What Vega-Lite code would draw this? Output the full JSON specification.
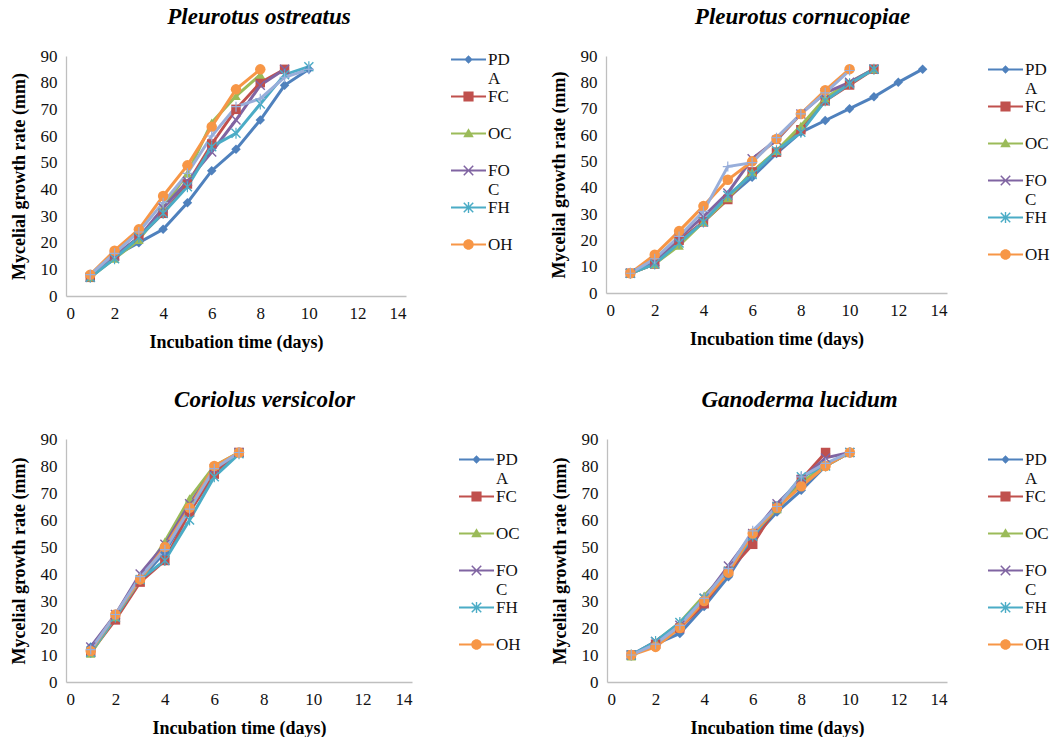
{
"$schema": "https://vega.github.io/schema/vega-lite/v6.json",
"padding": {"left": 10, "top": 6, "right": 0, "bottom": 0},
"background": "white",
"datasets": {"growth": [
{"panel":"PO","series":"PDA","day":1,"value":7},{"panel":"PO","series":"PDA","day":2,"value":15},{"panel":"PO","series":"PDA","day":3,"value":20},{"panel":"PO","series":"PDA","day":4,"value":25},{"panel":"PO","series":"PDA","day":5,"value":35},{"panel":"PO","series":"PDA","day":6,"value":47},{"panel":"PO","series":"PDA","day":7,"value":55},{"panel":"PO","series":"PDA","day":8,"value":66},{"panel":"PO","series":"PDA","day":9,"value":79},{"panel":"PO","series":"PDA","day":10,"value":85},
{"panel":"PO","series":"FC","day":1,"value":7},{"panel":"PO","series":"FC","day":2,"value":15},{"panel":"PO","series":"FC","day":3,"value":22},{"panel":"PO","series":"FC","day":4,"value":31},{"panel":"PO","series":"FC","day":5,"value":42},{"panel":"PO","series":"FC","day":6,"value":57},{"panel":"PO","series":"FC","day":7,"value":70},{"panel":"PO","series":"FC","day":8,"value":80},{"panel":"PO","series":"FC","day":9,"value":85},
{"panel":"PO","series":"OC","day":1,"value":7},{"panel":"PO","series":"OC","day":2,"value":14},{"panel":"PO","series":"OC","day":3,"value":21},{"panel":"PO","series":"OC","day":4,"value":33},{"panel":"PO","series":"OC","day":5,"value":46},{"panel":"PO","series":"OC","day":6,"value":65},{"panel":"PO","series":"OC","day":7,"value":75},{"panel":"PO","series":"OC","day":8,"value":83},
{"panel":"PO","series":"FOC","day":1,"value":7},{"panel":"PO","series":"FOC","day":2,"value":15},{"panel":"PO","series":"FOC","day":3,"value":22},{"panel":"PO","series":"FOC","day":4,"value":33},{"panel":"PO","series":"FOC","day":5,"value":43},{"panel":"PO","series":"FOC","day":6,"value":54},{"panel":"PO","series":"FOC","day":7,"value":66},{"panel":"PO","series":"FOC","day":8,"value":79},{"panel":"PO","series":"FOC","day":9,"value":85},
{"panel":"PO","series":"FH","day":1,"value":7},{"panel":"PO","series":"FH","day":2,"value":14},{"panel":"PO","series":"FH","day":3,"value":22},{"panel":"PO","series":"FH","day":4,"value":31},{"panel":"PO","series":"FH","day":5,"value":41},{"panel":"PO","series":"FH","day":6,"value":56},{"panel":"PO","series":"FH","day":7,"value":61},{"panel":"PO","series":"FH","day":8,"value":72},{"panel":"PO","series":"FH","day":9,"value":83},{"panel":"PO","series":"FH","day":10,"value":86},
{"panel":"PO","series":"OH","day":1,"value":8},{"panel":"PO","series":"OH","day":2,"value":17},{"panel":"PO","series":"OH","day":3,"value":25},{"panel":"PO","series":"OH","day":4,"value":37.5},{"panel":"PO","series":"OH","day":5,"value":49},{"panel":"PO","series":"OH","day":6,"value":63.5},{"panel":"PO","series":"OH","day":7,"value":77.5},{"panel":"PO","series":"OH","day":8,"value":85},
{"panel":"PO","series":"X","day":1,"value":8},{"panel":"PO","series":"X","day":2,"value":16},{"panel":"PO","series":"X","day":3,"value":24},{"panel":"PO","series":"X","day":4,"value":35},{"panel":"PO","series":"X","day":5,"value":46},{"panel":"PO","series":"X","day":6,"value":60},{"panel":"PO","series":"X","day":7,"value":71},{"panel":"PO","series":"X","day":8,"value":74},{"panel":"PO","series":"X","day":9,"value":82},{"panel":"PO","series":"X","day":10,"value":85},

{"panel":"PC","series":"PDA","day":1,"value":7.5},{"panel":"PC","series":"PDA","day":2,"value":11},{"panel":"PC","series":"PDA","day":3,"value":19},{"panel":"PC","series":"PDA","day":4,"value":27},{"panel":"PC","series":"PDA","day":5,"value":36},{"panel":"PC","series":"PDA","day":6,"value":44},{"panel":"PC","series":"PDA","day":7,"value":53},{"panel":"PC","series":"PDA","day":8,"value":61},{"panel":"PC","series":"PDA","day":9,"value":65.5},{"panel":"PC","series":"PDA","day":10,"value":70},{"panel":"PC","series":"PDA","day":11,"value":74.5},{"panel":"PC","series":"PDA","day":12,"value":80},{"panel":"PC","series":"PDA","day":13,"value":85},
{"panel":"PC","series":"FC","day":1,"value":7.5},{"panel":"PC","series":"FC","day":2,"value":11},{"panel":"PC","series":"FC","day":3,"value":20},{"panel":"PC","series":"FC","day":4,"value":27},{"panel":"PC","series":"FC","day":5,"value":35.5},{"panel":"PC","series":"FC","day":6,"value":46},{"panel":"PC","series":"FC","day":7,"value":53.5},{"panel":"PC","series":"FC","day":8,"value":62},{"panel":"PC","series":"FC","day":9,"value":73},{"panel":"PC","series":"FC","day":10,"value":79},{"panel":"PC","series":"FC","day":11,"value":85},
{"panel":"PC","series":"OC","day":1,"value":7.5},{"panel":"PC","series":"OC","day":2,"value":11},{"panel":"PC","series":"OC","day":3,"value":18},{"panel":"PC","series":"OC","day":4,"value":27},{"panel":"PC","series":"OC","day":5,"value":36},{"panel":"PC","series":"OC","day":6,"value":46},{"panel":"PC","series":"OC","day":7,"value":54},{"panel":"PC","series":"OC","day":8,"value":63.5},{"panel":"PC","series":"OC","day":9,"value":74},{"panel":"PC","series":"OC","day":10,"value":80},{"panel":"PC","series":"OC","day":11,"value":85},
{"panel":"PC","series":"FOC","day":1,"value":7.5},{"panel":"PC","series":"FOC","day":2,"value":12},{"panel":"PC","series":"FOC","day":3,"value":21},{"panel":"PC","series":"FOC","day":4,"value":29},{"panel":"PC","series":"FOC","day":5,"value":38},{"panel":"PC","series":"FOC","day":6,"value":51},{"panel":"PC","series":"FOC","day":7,"value":58},{"panel":"PC","series":"FOC","day":8,"value":68},{"panel":"PC","series":"FOC","day":9,"value":76},{"panel":"PC","series":"FOC","day":10,"value":80},{"panel":"PC","series":"FOC","day":11,"value":85},
{"panel":"PC","series":"FH","day":1,"value":7.5},{"panel":"PC","series":"FH","day":2,"value":11},{"panel":"PC","series":"FH","day":3,"value":19},{"panel":"PC","series":"FH","day":4,"value":27},{"panel":"PC","series":"FH","day":5,"value":37},{"panel":"PC","series":"FH","day":6,"value":45},{"panel":"PC","series":"FH","day":7,"value":54},{"panel":"PC","series":"FH","day":8,"value":61},{"panel":"PC","series":"FH","day":9,"value":73},{"panel":"PC","series":"FH","day":10,"value":79.5},{"panel":"PC","series":"FH","day":11,"value":85},
{"panel":"PC","series":"OH","day":1,"value":7.5},{"panel":"PC","series":"OH","day":2,"value":14.5},{"panel":"PC","series":"OH","day":3,"value":23.5},{"panel":"PC","series":"OH","day":4,"value":33},{"panel":"PC","series":"OH","day":5,"value":43},{"panel":"PC","series":"OH","day":6,"value":50},{"panel":"PC","series":"OH","day":7,"value":58.5},{"panel":"PC","series":"OH","day":8,"value":68},{"panel":"PC","series":"OH","day":9,"value":77},{"panel":"PC","series":"OH","day":10,"value":85},
{"panel":"PC","series":"X","day":1,"value":7.5},{"panel":"PC","series":"X","day":2,"value":13},{"panel":"PC","series":"X","day":3,"value":21.5},{"panel":"PC","series":"X","day":4,"value":31},{"panel":"PC","series":"X","day":5,"value":48},{"panel":"PC","series":"X","day":6,"value":49.5},{"panel":"PC","series":"X","day":7,"value":59},{"panel":"PC","series":"X","day":8,"value":68},{"panel":"PC","series":"X","day":9,"value":76},{"panel":"PC","series":"X","day":10,"value":84.5},

{"panel":"CV","series":"PDA","day":1,"value":13},{"panel":"CV","series":"PDA","day":2,"value":24},{"panel":"CV","series":"PDA","day":3,"value":38},{"panel":"CV","series":"PDA","day":4,"value":48},{"panel":"CV","series":"PDA","day":5,"value":64},{"panel":"CV","series":"PDA","day":6,"value":78},{"panel":"CV","series":"PDA","day":7,"value":85},
{"panel":"CV","series":"FC","day":1,"value":11},{"panel":"CV","series":"FC","day":2,"value":23},{"panel":"CV","series":"FC","day":3,"value":37},{"panel":"CV","series":"FC","day":4,"value":45},{"panel":"CV","series":"FC","day":5,"value":63},{"panel":"CV","series":"FC","day":6,"value":77},{"panel":"CV","series":"FC","day":7,"value":85},
{"panel":"CV","series":"OC","day":1,"value":10.5},{"panel":"CV","series":"OC","day":2,"value":24},{"panel":"CV","series":"OC","day":3,"value":38},{"panel":"CV","series":"OC","day":4,"value":52},{"panel":"CV","series":"OC","day":5,"value":68},{"panel":"CV","series":"OC","day":6,"value":80},{"panel":"CV","series":"OC","day":7,"value":85},
{"panel":"CV","series":"FOC","day":1,"value":13},{"panel":"CV","series":"FOC","day":2,"value":25},{"panel":"CV","series":"FOC","day":3,"value":40},{"panel":"CV","series":"FOC","day":4,"value":51},{"panel":"CV","series":"FOC","day":5,"value":66},{"panel":"CV","series":"FOC","day":6,"value":79},{"panel":"CV","series":"FOC","day":7,"value":85},
{"panel":"CV","series":"FH","day":1,"value":11},{"panel":"CV","series":"FH","day":2,"value":24},{"panel":"CV","series":"FH","day":3,"value":38},{"panel":"CV","series":"FH","day":4,"value":45},{"panel":"CV","series":"FH","day":5,"value":60},{"panel":"CV","series":"FH","day":6,"value":76},{"panel":"CV","series":"FH","day":7,"value":84.5},
{"panel":"CV","series":"OH","day":1,"value":11.5},{"panel":"CV","series":"OH","day":2,"value":25},{"panel":"CV","series":"OH","day":3,"value":38},{"panel":"CV","series":"OH","day":4,"value":50},{"panel":"CV","series":"OH","day":5,"value":64.5},{"panel":"CV","series":"OH","day":6,"value":80},{"panel":"CV","series":"OH","day":7,"value":85},
{"panel":"CV","series":"X","day":1,"value":12},{"panel":"CV","series":"X","day":2,"value":25},{"panel":"CV","series":"X","day":3,"value":39},{"panel":"CV","series":"X","day":4,"value":49},{"panel":"CV","series":"X","day":5,"value":64},{"panel":"CV","series":"X","day":6,"value":79},{"panel":"CV","series":"X","day":7,"value":85},

{"panel":"GL","series":"PDA","day":1,"value":10},{"panel":"GL","series":"PDA","day":2,"value":14},{"panel":"GL","series":"PDA","day":3,"value":18},{"panel":"GL","series":"PDA","day":4,"value":28},{"panel":"GL","series":"PDA","day":5,"value":39},{"panel":"GL","series":"PDA","day":6,"value":53},{"panel":"GL","series":"PDA","day":7,"value":63},{"panel":"GL","series":"PDA","day":8,"value":71},{"panel":"GL","series":"PDA","day":9,"value":80},{"panel":"GL","series":"PDA","day":10,"value":85},
{"panel":"GL","series":"FC","day":1,"value":10},{"panel":"GL","series":"FC","day":2,"value":14},{"panel":"GL","series":"FC","day":3,"value":20},{"panel":"GL","series":"FC","day":4,"value":29},{"panel":"GL","series":"FC","day":5,"value":41},{"panel":"GL","series":"FC","day":6,"value":51},{"panel":"GL","series":"FC","day":7,"value":65},{"panel":"GL","series":"FC","day":8,"value":75},{"panel":"GL","series":"FC","day":9,"value":85},
{"panel":"GL","series":"OC","day":1,"value":9.5},{"panel":"GL","series":"OC","day":2,"value":15},{"panel":"GL","series":"OC","day":3,"value":22},{"panel":"GL","series":"OC","day":4,"value":32},{"panel":"GL","series":"OC","day":5,"value":41},{"panel":"GL","series":"OC","day":6,"value":55},{"panel":"GL","series":"OC","day":7,"value":64},{"panel":"GL","series":"OC","day":8,"value":74},{"panel":"GL","series":"OC","day":9,"value":80},{"panel":"GL","series":"OC","day":10,"value":85},
{"panel":"GL","series":"FOC","day":1,"value":10},{"panel":"GL","series":"FOC","day":2,"value":15},{"panel":"GL","series":"FOC","day":3,"value":21},{"panel":"GL","series":"FOC","day":4,"value":31},{"panel":"GL","series":"FOC","day":5,"value":43},{"panel":"GL","series":"FOC","day":6,"value":55},{"panel":"GL","series":"FOC","day":7,"value":66},{"panel":"GL","series":"FOC","day":8,"value":75},{"panel":"GL","series":"FOC","day":9,"value":83},{"panel":"GL","series":"FOC","day":10,"value":85},
{"panel":"GL","series":"FH","day":1,"value":10},{"panel":"GL","series":"FH","day":2,"value":15},{"panel":"GL","series":"FH","day":3,"value":22},{"panel":"GL","series":"FH","day":4,"value":31},{"panel":"GL","series":"FH","day":5,"value":41},{"panel":"GL","series":"FH","day":6,"value":54},{"panel":"GL","series":"FH","day":7,"value":65},{"panel":"GL","series":"FH","day":8,"value":76},{"panel":"GL","series":"FH","day":9,"value":80},{"panel":"GL","series":"FH","day":10,"value":85},
{"panel":"GL","series":"OH","day":1,"value":10},{"panel":"GL","series":"OH","day":2,"value":13},{"panel":"GL","series":"OH","day":3,"value":20},{"panel":"GL","series":"OH","day":4,"value":30},{"panel":"GL","series":"OH","day":5,"value":40.5},{"panel":"GL","series":"OH","day":6,"value":55},{"panel":"GL","series":"OH","day":7,"value":64.5},{"panel":"GL","series":"OH","day":8,"value":72.5},{"panel":"GL","series":"OH","day":9,"value":80},{"panel":"GL","series":"OH","day":10,"value":85},
{"panel":"GL","series":"X","day":1,"value":10},{"panel":"GL","series":"X","day":2,"value":14},{"panel":"GL","series":"X","day":3,"value":21},{"panel":"GL","series":"X","day":4,"value":31},{"panel":"GL","series":"X","day":5,"value":42},{"panel":"GL","series":"X","day":6,"value":56},{"panel":"GL","series":"X","day":7,"value":65},{"panel":"GL","series":"X","day":8,"value":76},{"panel":"GL","series":"X","day":9,"value":81},{"panel":"GL","series":"X","day":10,"value":85}
]},
"data": {"name": "growth"},
"config": {
  "font": "Liberation Serif",
  "view": {"stroke": null},
  "axis": {"grid": false, "ticks": false, "domainColor": "#BFBFBF", "domainWidth": 1.3, "labelFont": "Liberation Serif", "labelFontSize": 17, "labelColor": "#111111", "labelPadding": 9, "titleFont": "Liberation Serif", "titleFontSize": 18, "titleFontWeight": "bold", "titleColor": "#000000", "titlePadding": 12},
  "title": {"font": "Liberation Serif", "fontSize": 23, "fontWeight": "bold", "fontStyle": "italic", "color": "#000000", "frame": "bounds", "offset": 18},
  "legend": {"labelFont": "Liberation Serif", "labelFontSize": 17, "labelColor": "#111111", "title": null, "symbolSize": 289, "symbolStrokeWidth": 0, "labelOffset": 20, "rowPadding": 0, "gridAlign": "all"}
},
"resolve": {"scale": {"color": "independent", "shape": "independent", "stroke": "independent"}, "legend": {"color": "independent", "shape": "independent"}},
"spacing": 38,
"vconcat": [
 {"hconcat": [
  {"width": 340, "height": 240, "title": {"text": "Pleurotus ostreatus"},
   "transform": [{"filter": "datum.panel === 'PO'"}],
   "encoding": {
    "x": {"field": "day", "type": "quantitative", "scale": {"domain": [0, 14], "nice": false}, "axis": {"values": [0,2,4,6,8,10,12,14], "title": "Incubation time (days)"}},
    "y": {"field": "value", "type": "quantitative", "scale": {"domain": [0, 90], "nice": false}, "axis": {"values": [0,10,20,30,40,50,60,70,80,90], "title": "Mycelial growth rate (mm)"}}
   },
   "layer": [
    {"transform": [{"filter": "datum.series !== 'X'"}], "mark": {"type": "line", "strokeWidth": 3}, "encoding": {"stroke": {"field": "series", "type": "nominal", "scale": {"domain": ["OH","FH","FOC","OC","FC","PDA"], "range": ["#F79646","#4BACC6","#8064A2","#9BBB59","#C0504D","#4F81BD"]}, "legend": null}}},
    {"transform": [{"filter": "datum.series === 'X'"}], "mark": {"type": "line", "strokeWidth": 3, "color": "#98AEDA"}, "encoding": {}},
    {"transform": [{"filter": "datum.series === 'PDA'"}], "mark": {"type": "point", "shape": "diamond", "filled": true, "opacity": 1, "size": 90, "color": "#4F81BD"}},
    {"transform": [{"filter": "datum.series === 'FC'"}], "mark": {"type": "point", "shape": "square", "filled": true, "opacity": 1, "size": 90, "color": "#C0504D"}},
    {"transform": [{"filter": "datum.series === 'OC'"}], "mark": {"type": "point", "shape": "triangle-up", "filled": true, "opacity": 1, "size": 90, "color": "#9BBB59"}},
    {"transform": [{"filter": "datum.series === 'FOC'"}], "mark": {"type": "point", "shape": "M-1,-0.8L-0.8,-1L0,-0.2L0.8,-1L1,-0.8L0.2,0L1,0.8L0.8,1L0,0.2L-0.8,1L-1,0.8L-0.2,0Z", "filled": true, "opacity": 1, "size": 100, "color": "#8064A2"}},
    {"transform": [{"filter": "datum.series === 'FH'"}], "mark": {"type": "point", "shape": "M-1,-0.8L-0.8,-1L0,-0.2L0.8,-1L1,-0.8L0.2,0L1,0.8L0.8,1L0,0.2L-0.8,1L-1,0.8L-0.2,0ZM-0.12,-1.1L0.12,-1.1L0.12,1.1L-0.12,1.1Z", "filled": true, "opacity": 1, "size": 100, "color": "#4BACC6"}},
    {"transform": [{"filter": "datum.series === 'OH'"}], "mark": {"type": "point", "shape": "circle", "filled": true, "opacity": 1, "size": 110, "color": "#F79646"}},
    {"transform": [{"filter": "datum.series === 'X'"}], "mark": {"type": "point", "shape": "M-1,-0.12L1,-0.12L1,0.12L-1,0.12ZM-0.12,-1L0.12,-1L0.12,1L-0.12,1Z", "filled": true, "opacity": 1, "size": 100, "color": "#98AEDA"}},
    {"transform": [{"filter": "datum.series === 'none'"}], "mark": {"type": "point", "filled": true, "opacity": 1},
     "encoding": {
      "color": {"field": "series", "type": "nominal", "scale": {"domain": ["PDA","FC","OC","FOC","FH","OH"], "range": ["#4F81BD","#C0504D","#9BBB59","#8064A2","#4BACC6","#F79646"]},
        "legend": {"orient": "right", "offset": 50, "padding": -5, "labelExpr": "datum.label === 'PDA' ? ['PD','A'] : datum.label === 'FOC' ? ['FO','C'] : datum.label", "encode": {"labels": {"update": {"lineHeight": {"value": 17}}}}}},
      "shape": {"field": "series", "type": "nominal", "scale": {"domain": ["PDA","FC","OC","FOC","FH","OH"], "range": [
        "M-1,-0.12L3.12,-0.12L3.12,0.12L-1,0.12ZM0.566,0L1.06,-0.494L1.554,0L1.06,0.494Z",
        "M-1,-0.12L3.12,-0.12L3.12,0.12L-1,0.12ZM0.463,-0.597L1.657,-0.597L1.657,0.597L0.463,0.597Z",
        "M-1,-0.12L3.12,-0.12L3.12,0.12L-1,0.12ZM0.442,0.453L1.06,-0.618L1.678,0.453Z",
        "M-1,-0.12L3.12,-0.12L3.12,0.12L-1,0.12ZM0.442,-0.494L0.566,-0.618L1.06,-0.124L1.554,-0.618L1.678,-0.494L1.184,0L1.678,0.494L1.554,0.618L1.06,0.124L0.566,0.618L0.442,0.494L0.936,0Z",
        "M-1,-0.12L3.12,-0.12L3.12,0.12L-1,0.12ZM0.442,-0.494L0.566,-0.618L1.06,-0.124L1.554,-0.618L1.678,-0.494L1.184,0L1.678,0.494L1.554,0.618L1.06,0.124L0.566,0.618L0.442,0.494L0.936,0ZM0.978,-0.659L1.142,-0.659L1.142,0.659L0.978,0.659Z",
        "M-1,-0.12L3.12,-0.12L3.12,0.12L-1,0.12ZM0.442,0A0.618,0.618 0 1,1 1.678,0A0.618,0.618 0 1,1 0.442,0Z"]}}
     }}
   ]},
  {"width": 341, "height": 237, "title": {"text": "Pleurotus cornucopiae"},
   "transform": [{"filter": "datum.panel === 'PC'"}],
   "encoding": {
    "x": {"field": "day", "type": "quantitative", "scale": {"domain": [0, 14], "nice": false}, "axis": {"values": [0,2,4,6,8,10,12,14], "title": "Incubation time (days)"}},
    "y": {"field": "value", "type": "quantitative", "scale": {"domain": [0, 90], "nice": false}, "axis": {"values": [0,10,20,30,40,50,60,70,80,90], "title": "Mycelial growth rate (mm)"}}
   },
   "layer": [
    {"transform": [{"filter": "datum.series !== 'X'"}], "mark": {"type": "line", "strokeWidth": 3}, "encoding": {"stroke": {"field": "series", "type": "nominal", "scale": {"domain": ["OH","FH","FOC","OC","FC","PDA"], "range": ["#F79646","#4BACC6","#8064A2","#9BBB59","#C0504D","#4F81BD"]}, "legend": null}}},
    {"transform": [{"filter": "datum.series === 'X'"}], "mark": {"type": "line", "strokeWidth": 3, "color": "#98AEDA"}, "encoding": {}},
    {"transform": [{"filter": "datum.series === 'PDA'"}], "mark": {"type": "point", "shape": "diamond", "filled": true, "opacity": 1, "size": 90, "color": "#4F81BD"}},
    {"transform": [{"filter": "datum.series === 'FC'"}], "mark": {"type": "point", "shape": "square", "filled": true, "opacity": 1, "size": 90, "color": "#C0504D"}},
    {"transform": [{"filter": "datum.series === 'OC'"}], "mark": {"type": "point", "shape": "triangle-up", "filled": true, "opacity": 1, "size": 90, "color": "#9BBB59"}},
    {"transform": [{"filter": "datum.series === 'FOC'"}], "mark": {"type": "point", "shape": "M-1,-0.8L-0.8,-1L0,-0.2L0.8,-1L1,-0.8L0.2,0L1,0.8L0.8,1L0,0.2L-0.8,1L-1,0.8L-0.2,0Z", "filled": true, "opacity": 1, "size": 100, "color": "#8064A2"}},
    {"transform": [{"filter": "datum.series === 'FH'"}], "mark": {"type": "point", "shape": "M-1,-0.8L-0.8,-1L0,-0.2L0.8,-1L1,-0.8L0.2,0L1,0.8L0.8,1L0,0.2L-0.8,1L-1,0.8L-0.2,0ZM-0.12,-1.1L0.12,-1.1L0.12,1.1L-0.12,1.1Z", "filled": true, "opacity": 1, "size": 100, "color": "#4BACC6"}},
    {"transform": [{"filter": "datum.series === 'OH'"}], "mark": {"type": "point", "shape": "circle", "filled": true, "opacity": 1, "size": 110, "color": "#F79646"}},
    {"transform": [{"filter": "datum.series === 'X'"}], "mark": {"type": "point", "shape": "M-1,-0.12L1,-0.12L1,0.12L-1,0.12ZM-0.12,-1L0.12,-1L0.12,1L-0.12,1Z", "filled": true, "opacity": 1, "size": 100, "color": "#98AEDA"}},
    {"transform": [{"filter": "datum.series === 'none'"}], "mark": {"type": "point", "filled": true, "opacity": 1},
     "encoding": {
      "color": {"field": "series", "type": "nominal", "scale": {"domain": ["PDA","FC","OC","FOC","FH","OH"], "range": ["#4F81BD","#C0504D","#9BBB59","#8064A2","#4BACC6","#F79646"]},
        "legend": {"orient": "right", "offset": 36, "padding": 5, "labelExpr": "datum.label === 'PDA' ? ['PD','A'] : datum.label === 'FOC' ? ['FO','C'] : datum.label", "encode": {"labels": {"update": {"lineHeight": {"value": 17}}}}}},
      "shape": {"field": "series", "type": "nominal", "scale": {"domain": ["PDA","FC","OC","FOC","FH","OH"], "range": [
        "M-1,-0.12L3.12,-0.12L3.12,0.12L-1,0.12ZM0.566,0L1.06,-0.494L1.554,0L1.06,0.494Z",
        "M-1,-0.12L3.12,-0.12L3.12,0.12L-1,0.12ZM0.463,-0.597L1.657,-0.597L1.657,0.597L0.463,0.597Z",
        "M-1,-0.12L3.12,-0.12L3.12,0.12L-1,0.12ZM0.442,0.453L1.06,-0.618L1.678,0.453Z",
        "M-1,-0.12L3.12,-0.12L3.12,0.12L-1,0.12ZM0.442,-0.494L0.566,-0.618L1.06,-0.124L1.554,-0.618L1.678,-0.494L1.184,0L1.678,0.494L1.554,0.618L1.06,0.124L0.566,0.618L0.442,0.494L0.936,0Z",
        "M-1,-0.12L3.12,-0.12L3.12,0.12L-1,0.12ZM0.442,-0.494L0.566,-0.618L1.06,-0.124L1.554,-0.618L1.678,-0.494L1.184,0L1.678,0.494L1.554,0.618L1.06,0.124L0.566,0.618L0.442,0.494L0.936,0ZM0.978,-0.659L1.142,-0.659L1.142,0.659L0.978,0.659Z",
        "M-1,-0.12L3.12,-0.12L3.12,0.12L-1,0.12ZM0.442,0A0.618,0.618 0 1,1 1.678,0A0.618,0.618 0 1,1 0.442,0Z"]}}
     }}
   ]}
 ], "spacing": 42, "resolve": {"scale": {"color": "independent", "shape": "independent", "stroke": "independent"}, "legend": {"color": "independent", "shape": "independent"}}},
 {"hconcat": [
  {"width": 346, "height": 243, "title": {"text": "Coriolus versicolor", "dx": -7},
   "transform": [{"filter": "datum.panel === 'CV'"}],
   "encoding": {
    "x": {"field": "day", "type": "quantitative", "scale": {"domain": [0, 14], "nice": false}, "axis": {"values": [0,2,4,6,8,10,12,14], "title": "Incubation time (days)"}},
    "y": {"field": "value", "type": "quantitative", "scale": {"domain": [0, 90], "nice": false}, "axis": {"values": [0,10,20,30,40,50,60,70,80,90], "title": "Mycelial growth rate (mm)"}}
   },
   "layer": [
    {"transform": [{"filter": "datum.series !== 'X'"}], "mark": {"type": "line", "strokeWidth": 3}, "encoding": {"stroke": {"field": "series", "type": "nominal", "scale": {"domain": ["OH","FH","FOC","OC","FC","PDA"], "range": ["#F79646","#4BACC6","#8064A2","#9BBB59","#C0504D","#4F81BD"]}, "legend": null}}},
    {"transform": [{"filter": "datum.series === 'X'"}], "mark": {"type": "line", "strokeWidth": 3, "color": "#98AEDA"}, "encoding": {}},
    {"transform": [{"filter": "datum.series === 'PDA'"}], "mark": {"type": "point", "shape": "diamond", "filled": true, "opacity": 1, "size": 90, "color": "#4F81BD"}},
    {"transform": [{"filter": "datum.series === 'FC'"}], "mark": {"type": "point", "shape": "square", "filled": true, "opacity": 1, "size": 90, "color": "#C0504D"}},
    {"transform": [{"filter": "datum.series === 'OC'"}], "mark": {"type": "point", "shape": "triangle-up", "filled": true, "opacity": 1, "size": 90, "color": "#9BBB59"}},
    {"transform": [{"filter": "datum.series === 'FOC'"}], "mark": {"type": "point", "shape": "M-1,-0.8L-0.8,-1L0,-0.2L0.8,-1L1,-0.8L0.2,0L1,0.8L0.8,1L0,0.2L-0.8,1L-1,0.8L-0.2,0Z", "filled": true, "opacity": 1, "size": 100, "color": "#8064A2"}},
    {"transform": [{"filter": "datum.series === 'FH'"}], "mark": {"type": "point", "shape": "M-1,-0.8L-0.8,-1L0,-0.2L0.8,-1L1,-0.8L0.2,0L1,0.8L0.8,1L0,0.2L-0.8,1L-1,0.8L-0.2,0ZM-0.12,-1.1L0.12,-1.1L0.12,1.1L-0.12,1.1Z", "filled": true, "opacity": 1, "size": 100, "color": "#4BACC6"}},
    {"transform": [{"filter": "datum.series === 'OH'"}], "mark": {"type": "point", "shape": "circle", "filled": true, "opacity": 1, "size": 110, "color": "#F79646"}},
    {"transform": [{"filter": "datum.series === 'X'"}], "mark": {"type": "point", "shape": "M-1,-0.12L1,-0.12L1,0.12L-1,0.12ZM-0.12,-1L0.12,-1L0.12,1L-0.12,1Z", "filled": true, "opacity": 1, "size": 100, "color": "#98AEDA"}},
    {"transform": [{"filter": "datum.series === 'none'"}], "mark": {"type": "point", "filled": true, "opacity": 1},
     "encoding": {
      "color": {"field": "series", "type": "nominal", "scale": {"domain": ["PDA","FC","OC","FOC","FH","OH"], "range": ["#4F81BD","#C0504D","#9BBB59","#8064A2","#4BACC6","#F79646"]},
        "legend": {"orient": "right", "offset": 35, "padding": 12, "labelExpr": "datum.label === 'PDA' ? ['PD','A'] : datum.label === 'FOC' ? ['FO','C'] : datum.label", "encode": {"labels": {"update": {"lineHeight": {"value": 17}}}}}},
      "shape": {"field": "series", "type": "nominal", "scale": {"domain": ["PDA","FC","OC","FOC","FH","OH"], "range": [
        "M-1,-0.12L3.12,-0.12L3.12,0.12L-1,0.12ZM0.566,0L1.06,-0.494L1.554,0L1.06,0.494Z",
        "M-1,-0.12L3.12,-0.12L3.12,0.12L-1,0.12ZM0.463,-0.597L1.657,-0.597L1.657,0.597L0.463,0.597Z",
        "M-1,-0.12L3.12,-0.12L3.12,0.12L-1,0.12ZM0.442,0.453L1.06,-0.618L1.678,0.453Z",
        "M-1,-0.12L3.12,-0.12L3.12,0.12L-1,0.12ZM0.442,-0.494L0.566,-0.618L1.06,-0.124L1.554,-0.618L1.678,-0.494L1.184,0L1.678,0.494L1.554,0.618L1.06,0.124L0.566,0.618L0.442,0.494L0.936,0Z",
        "M-1,-0.12L3.12,-0.12L3.12,0.12L-1,0.12ZM0.442,-0.494L0.566,-0.618L1.06,-0.124L1.554,-0.618L1.678,-0.494L1.184,0L1.678,0.494L1.554,0.618L1.06,0.124L0.566,0.618L0.442,0.494L0.936,0ZM0.978,-0.659L1.142,-0.659L1.142,0.659L0.978,0.659Z",
        "M-1,-0.12L3.12,-0.12L3.12,0.12L-1,0.12ZM0.442,0A0.618,0.618 0 1,1 1.678,0A0.618,0.618 0 1,1 0.442,0Z"]}}
     }}
   ]},
  {"width": 340, "height": 243, "title": {"text": "Ganoderma lucidum", "dx": -7},
   "transform": [{"filter": "datum.panel === 'GL'"}],
   "encoding": {
    "x": {"field": "day", "type": "quantitative", "scale": {"domain": [0, 14], "nice": false}, "axis": {"values": [0,2,4,6,8,10,12,14], "title": "Incubation time (days)"}},
    "y": {"field": "value", "type": "quantitative", "scale": {"domain": [0, 90], "nice": false}, "axis": {"values": [0,10,20,30,40,50,60,70,80,90], "title": "Mycelial growth rate (mm)"}}
   },
   "layer": [
    {"transform": [{"filter": "datum.series !== 'X'"}], "mark": {"type": "line", "strokeWidth": 3}, "encoding": {"stroke": {"field": "series", "type": "nominal", "scale": {"domain": ["OH","FH","FOC","OC","FC","PDA"], "range": ["#F79646","#4BACC6","#8064A2","#9BBB59","#C0504D","#4F81BD"]}, "legend": null}}},
    {"transform": [{"filter": "datum.series === 'X'"}], "mark": {"type": "line", "strokeWidth": 3, "color": "#98AEDA"}, "encoding": {}},
    {"transform": [{"filter": "datum.series === 'PDA'"}], "mark": {"type": "point", "shape": "diamond", "filled": true, "opacity": 1, "size": 90, "color": "#4F81BD"}},
    {"transform": [{"filter": "datum.series === 'FC'"}], "mark": {"type": "point", "shape": "square", "filled": true, "opacity": 1, "size": 90, "color": "#C0504D"}},
    {"transform": [{"filter": "datum.series === 'OC'"}], "mark": {"type": "point", "shape": "triangle-up", "filled": true, "opacity": 1, "size": 90, "color": "#9BBB59"}},
    {"transform": [{"filter": "datum.series === 'FOC'"}], "mark": {"type": "point", "shape": "M-1,-0.8L-0.8,-1L0,-0.2L0.8,-1L1,-0.8L0.2,0L1,0.8L0.8,1L0,0.2L-0.8,1L-1,0.8L-0.2,0Z", "filled": true, "opacity": 1, "size": 100, "color": "#8064A2"}},
    {"transform": [{"filter": "datum.series === 'FH'"}], "mark": {"type": "point", "shape": "M-1,-0.8L-0.8,-1L0,-0.2L0.8,-1L1,-0.8L0.2,0L1,0.8L0.8,1L0,0.2L-0.8,1L-1,0.8L-0.2,0ZM-0.12,-1.1L0.12,-1.1L0.12,1.1L-0.12,1.1Z", "filled": true, "opacity": 1, "size": 100, "color": "#4BACC6"}},
    {"transform": [{"filter": "datum.series === 'OH'"}], "mark": {"type": "point", "shape": "circle", "filled": true, "opacity": 1, "size": 110, "color": "#F79646"}},
    {"transform": [{"filter": "datum.series === 'X'"}], "mark": {"type": "point", "shape": "M-1,-0.12L1,-0.12L1,0.12L-1,0.12ZM-0.12,-1L0.12,-1L0.12,1L-0.12,1Z", "filled": true, "opacity": 1, "size": 100, "color": "#98AEDA"}},
    {"transform": [{"filter": "datum.series === 'none'"}], "mark": {"type": "point", "filled": true, "opacity": 1},
     "encoding": {
      "color": {"field": "series", "type": "nominal", "scale": {"domain": ["PDA","FC","OC","FOC","FH","OH"], "range": ["#4F81BD","#C0504D","#9BBB59","#8064A2","#4BACC6","#F79646"]},
        "legend": {"orient": "right", "offset": 29, "padding": 12, "labelExpr": "datum.label === 'PDA' ? ['PD','A'] : datum.label === 'FOC' ? ['FO','C'] : datum.label", "encode": {"labels": {"update": {"lineHeight": {"value": 17}}}}}},
      "shape": {"field": "series", "type": "nominal", "scale": {"domain": ["PDA","FC","OC","FOC","FH","OH"], "range": [
        "M-1,-0.12L3.12,-0.12L3.12,0.12L-1,0.12ZM0.566,0L1.06,-0.494L1.554,0L1.06,0.494Z",
        "M-1,-0.12L3.12,-0.12L3.12,0.12L-1,0.12ZM0.463,-0.597L1.657,-0.597L1.657,0.597L0.463,0.597Z",
        "M-1,-0.12L3.12,-0.12L3.12,0.12L-1,0.12ZM0.442,0.453L1.06,-0.618L1.678,0.453Z",
        "M-1,-0.12L3.12,-0.12L3.12,0.12L-1,0.12ZM0.442,-0.494L0.566,-0.618L1.06,-0.124L1.554,-0.618L1.678,-0.494L1.184,0L1.678,0.494L1.554,0.618L1.06,0.124L0.566,0.618L0.442,0.494L0.936,0Z",
        "M-1,-0.12L3.12,-0.12L3.12,0.12L-1,0.12ZM0.442,-0.494L0.566,-0.618L1.06,-0.124L1.554,-0.618L1.678,-0.494L1.184,0L1.678,0.494L1.554,0.618L1.06,0.124L0.566,0.618L0.442,0.494L0.936,0ZM0.978,-0.659L1.142,-0.659L1.142,0.659L0.978,0.659Z",
        "M-1,-0.12L3.12,-0.12L3.12,0.12L-1,0.12ZM0.442,0A0.618,0.618 0 1,1 1.678,0A0.618,0.618 0 1,1 0.442,0Z"]}}
     }}
   ]}
 ], "spacing": 18, "resolve": {"scale": {"color": "independent", "shape": "independent", "stroke": "independent"}, "legend": {"color": "independent", "shape": "independent"}}}
]
}
